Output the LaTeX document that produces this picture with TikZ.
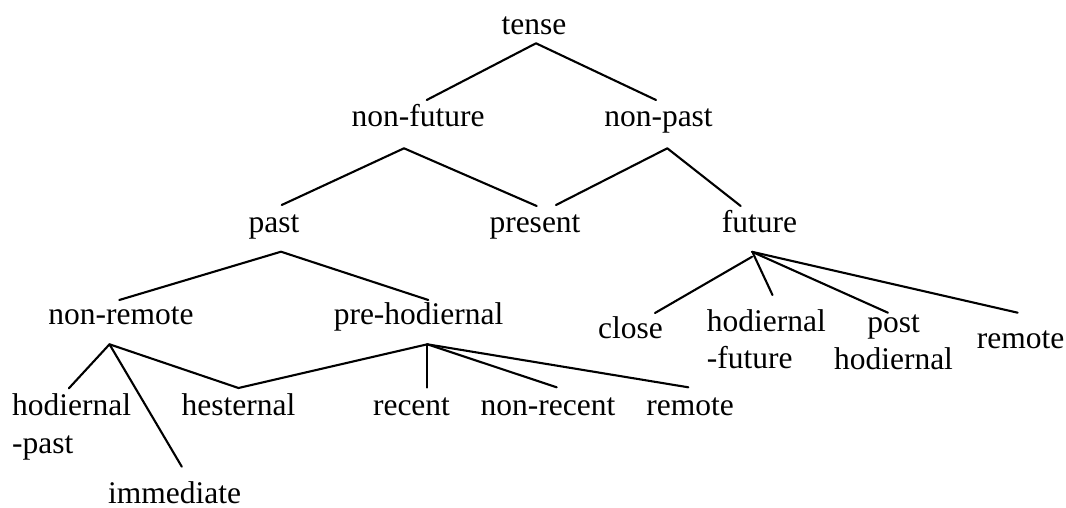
\documentclass[tikz,border=0pt]{standalone}
\usepackage{fontspec}
\setmainfont{Liberation Serif}
\begin{document}
\begin{tikzpicture}[x=1pt,y=-1pt,
  lbl/.style={inner sep=0pt,anchor=base,font=\fontsize{31.5}{37.5}\selectfont},
  lblw/.style={lbl,anchor=base west,align=left},
  lblc/.style={lbl,align=center},
  edge/.style={line width=2.1pt,line cap=round,line join=round}]
\useasboundingbox (0,0) rectangle (1066,508);

% labels, placed by their baselines (last line for two-line labels)
\node[lbl] (tense) at (534,35) {tense};
\node[lbl] (nfut) at (418,127) {non-future};
\node[lbl] (npast) at (658.5,127) {non-past};
\node[lbl] (past) at (274,232) {past};
\node[lbl] (pres) at (535,232) {present};
\node[lbl] (fut) at (759.5,232) {future};
\node[lbl] (nrem) at (121,324) {non-remote};
\node[lbl] (prehod) at (418.6,324) {pre-hodiernal};
\node[lblw] (hodpast) at (12,453) {hodiernal\\-past};
\node[lbl] (imm) at (174.5,503) {immediate};
\node[lbl] (hest) at (238.5,415) {hesternal};
\node[lbl] (rec) at (411.5,415) {recent};
\node[lbl] (nrec) at (548,415) {non-recent};
\node[lbl] (remp) at (690,415) {remote};
\node[lbl] (close) at (630.5,338.3) {close};
\node[lblw] (hodfut) at (706.7,368.8) {hodiernal\\-future};
\node[lblc] (posthod) at (893.5,369.5) {post\\hodiernal};
\node[lbl] (remf) at (1020.5,348.3) {remote};

% branches
\draw[edge] ([shift={(8.7,-27)}]nfut.base) -- ([shift={(2,8.3)}]tense.base) -- ([shift={(-2.5,-27)}]npast.base);
\draw[edge] ([shift={(7.7,-27)}]past.base) -- ([shift={(-14,21.3)}]nfut.base) -- ([shift={(1.7,-26)}]pres.base);
\draw[edge] ([shift={(21,-27)}]pres.base) -- ([shift={(8.8,21.3)}]npast.base) -- ([shift={(-18.8,-26)}]fut.base);
\draw[edge] ([shift={(-1.7,-24)}]nrem.base) -- ([shift={(7,19.7)}]past.base) -- ([shift={(9.7,-24)}]prehod.base);

\draw[edge] ([shift={(56.9,-64.7)}]hodpast.base west) -- ([shift={(-11.5,20.3)}]nrem.base) -- ([shift={(7.3,-36.3)}]imm.base);
\draw[edge] ([shift={(-11.5,20.3)}]nrem.base) -- ([shift={(0,-27)}]hest.base) -- ([shift={(8.7,20.3)}]prehod.base);
\draw[edge] ([shift={(8.7,20.3)}]prehod.base) -- ([shift={(15.8,-27.5)}]rec.base);
\draw[edge] ([shift={(8.7,20.3)}]prehod.base) -- ([shift={(8.7,-27.7)}]nrec.base);
\draw[edge] ([shift={(8.7,20.3)}]prehod.base) -- ([shift={(-1.7,-27.7)}]remp.base);

\draw[edge] ([shift={(-7.5,24.8)}]fut.base) -- ([shift={(24.5,-25.3)}]close.base);
\draw[edge] ([shift={(-6.5,21.3)}]fut.base) -- ([shift={(65.8,-73.8)}]hodfut.base west);
\draw[edge] ([shift={(-7.5,19.8)}]fut.base) -- ([shift={(-5.6,-56.8)}]posthod.base);
\draw[edge] ([shift={(-7.5,19.8)}]fut.base) -- ([shift={(-2.8,-35.6)}]remf.base);
\end{tikzpicture}
\end{document}
